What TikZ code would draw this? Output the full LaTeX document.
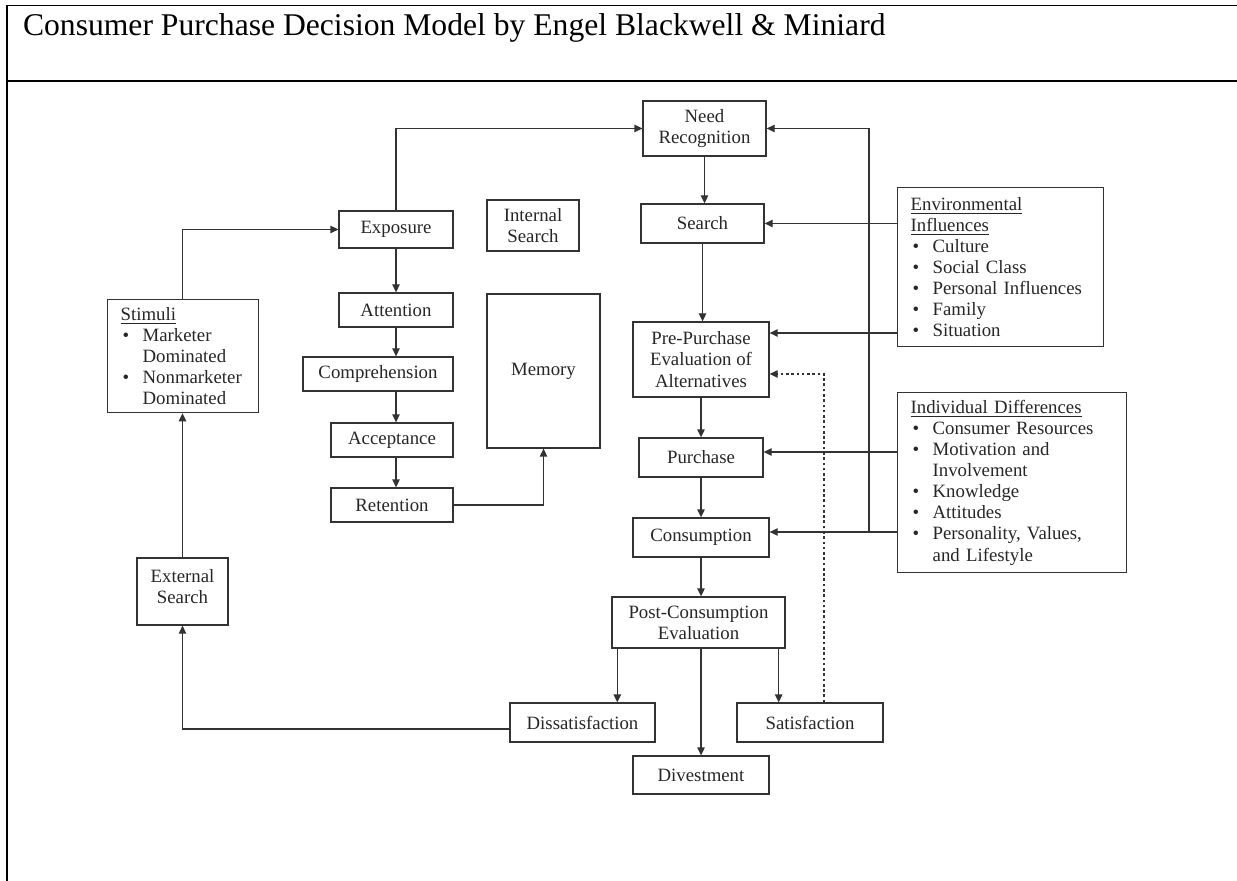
\documentclass[tikz,border=0pt]{standalone}
\usepackage{fontspec}
\setmainfont{Liberation Serif}
\usepackage{tikz}
\usetikzlibrary{arrows.meta,positioning,calc}

\newcommand{\itm}[1]{\makebox[0.44cm][l]{\hspace{0.04cm}\textbullet}#1}
\newcommand{\cnt}[1]{\hspace*{0.44cm}#1}

\begin{document}
\begin{tikzpicture}[
  x=0.02cm, y=-0.02cm,
  box/.style={draw=black!80, line width=0.75pt, align=center, inner sep=0pt, text=black!85,
              font=\fontsize{10.7}{12}\selectfont},
  sz/.style 2 args={minimum width=#1*0.02cm, minimum height=#2*0.02cm},
  lst/.style={box, align=left, anchor=north west, inner xsep=0.26cm, inner ysep=0pt},
  arr/.style={-{Triangle[length=1.6mm,width=1.5mm]}, line width=0.75pt, draw=black!80},
  frame/.style={line width=1.1pt}
]
\useasboundingbox (0,0) rectangle (1237,881);
% page frame and title
\draw[frame] (1237,5.5) -- (7,5.5) -- (7,881);
\draw[frame] (7,81) -- (1237,81);
\node[anchor=base west, inner sep=0pt, font=\fontsize{18}{20}\selectfont] (title) at (22.7,36)
  {Consumer Purchase Decision Model by Engel Blackwell \& Miniard};

% information processing column
\node[box, sz={114}{37}]  (exposure)  at (396,229.5) {Exposure};
\node[box, sz={114}{34}]  (attention) at (396,310)   {Attention};
\node[box, sz={150}{34}]  (compr)     at (378,374)   {Comprehension};
\node[box, sz={122}{34}]  (accept)    at (392,440)   {Acceptance};
\node[box, sz={122}{34}]  (retention) at (392,505)   {Retention};
\node[box, sz={92}{51}]   (intsearch) at (533,225.5) {Internal\\Search};
\node[box, sz={113}{154}] (memory)    at (543.5,371) {Memory};

% stimuli and external search
\node[lst, text width=2.5cm, minimum height=2.26cm] (stimuli) at (107,299)
  {\underline{Stimuli}\\\itm{Marketer}\\\cnt{Dominated}\\\itm{Nonmarketer}\\\cnt{Dominated}};
\node[box, sz={91}{67}] (extsearch) at (182.5,591.5) {External\\Search\\[-6.3pt]};

% decision process column
\node[box, sz={123}{55}] (needrec)  at (704.5,128.5) {Need\\Recognition};
\node[box, sz={123}{39}] (search)   at (702.5,223.5) {Search};
\node[box, sz={136}{75}] (prepurch) at (701,359.5)   {Pre-Purchase\\Evaluation of\\Alternatives};
\node[box, sz={124}{39}] (purchase) at (701,457.5)   {Purchase};
\node[box, sz={136}{39}] (consump)  at (701,537.5)   {Consumption};
\node[box, sz={173}{51}] (postcons) at (698.5,622.5) {Post-Consumption\\Evaluation};
\node[box, sz={145}{39}] (dissat)   at (582.5,722.5) {Dissatisfaction};
\node[box, sz={146}{39}] (satis)    at (810,722.5)   {Satisfaction};
\node[box, sz={136}{38}] (divest)   at (701,775)     {Divestment};

% influences
\node[lst, text width=3.6cm, minimum height=3.18cm] (env) at (897,187)
  {\underline{Environmental}\\\underline{Influences}\\\itm{Culture}\\\itm{Social Class}\\
   \itm{Personal Influences}\\\itm{Family}\\\itm{Situation}};
\node[lst, text width=4.06cm, minimum height=3.6cm] (indiv) at (897,392)
  {\underline{Individual Differences}\\\itm{Consumer Resources}\\\itm{Motivation and}\\
   \cnt{Involvement}\\\itm{Knowledge}\\\itm{Attitudes}\\\itm{Personality, Values,}\\\cnt{and Lifestyle}};

\coordinate (ppin) at ([yshift=0.53cm]prepurch.east);
\coordinate (ppfb) at ([yshift=-0.29cm]prepurch.east);
\coordinate (puin) at ([yshift=0.11cm]purchase.east);
\coordinate (coin) at ([yshift=0.11cm]consump.east);
\coordinate (exin) at ([yshift=-0.13cm]dissat.west);
\coordinate (dsh)  at ([xshift=0.28cm]satis.north);
\coordinate (dsl)  at ([xshift=0.12cm]postcons.south west);
\coordinate (dsr)  at ([xshift=-0.14cm]postcons.south east);
\coordinate (fbx)  at (869,128);

% processing chain
\draw[arr] (exposure) -- (attention);
\draw[arr] (attention.south) -- (attention.south |- compr.north);
\draw[arr] (compr.south -| attention) -- (accept.north -| attention);
\draw[arr] (accept.south -| attention) -- (retention.north -| attention);
\draw[arr] (retention.east) -| (memory.south);
\draw[arr] (exposure.north) |- (needrec.west);
\draw[arr] (stimuli.north -| extsearch) |- (exposure.west);
\draw[arr] (extsearch) -- (stimuli.south -| extsearch);
\draw[arr] (exin) -| (extsearch.south);

% decision chain
\draw[arr] (needrec.south) -- (needrec.south |- search.north);
\draw[arr] (search.south) -- (search.south |- prepurch.north);
\draw[arr] (prepurch.south) -- (prepurch.south |- purchase.north);
\draw[arr] (purchase) -- (consump);
\draw[arr] (consump) -- (consump |- postcons.north);
\draw[arr] (dsl) -- (dsl |- dissat.north);
\draw[arr] (postcons.south -| divest) -- (divest);
\draw[arr] (dsr) -- (dsr |- satis.north);
\draw[arr, dash pattern=on 1.5pt off 1.5pt] (dsh) |- (ppfb);

% influences
\draw[arr] (search.east -| env.west) -- (search.east);
\draw[arr] (ppin -| env.west) -- (ppin);
\draw[arr] (puin -| indiv.west) -- (puin);
\draw[arr] (coin -| indiv.west) -- (coin);
\draw[arr] (coin -| fbx) |- (needrec.east);
\end{tikzpicture}
\end{document}
